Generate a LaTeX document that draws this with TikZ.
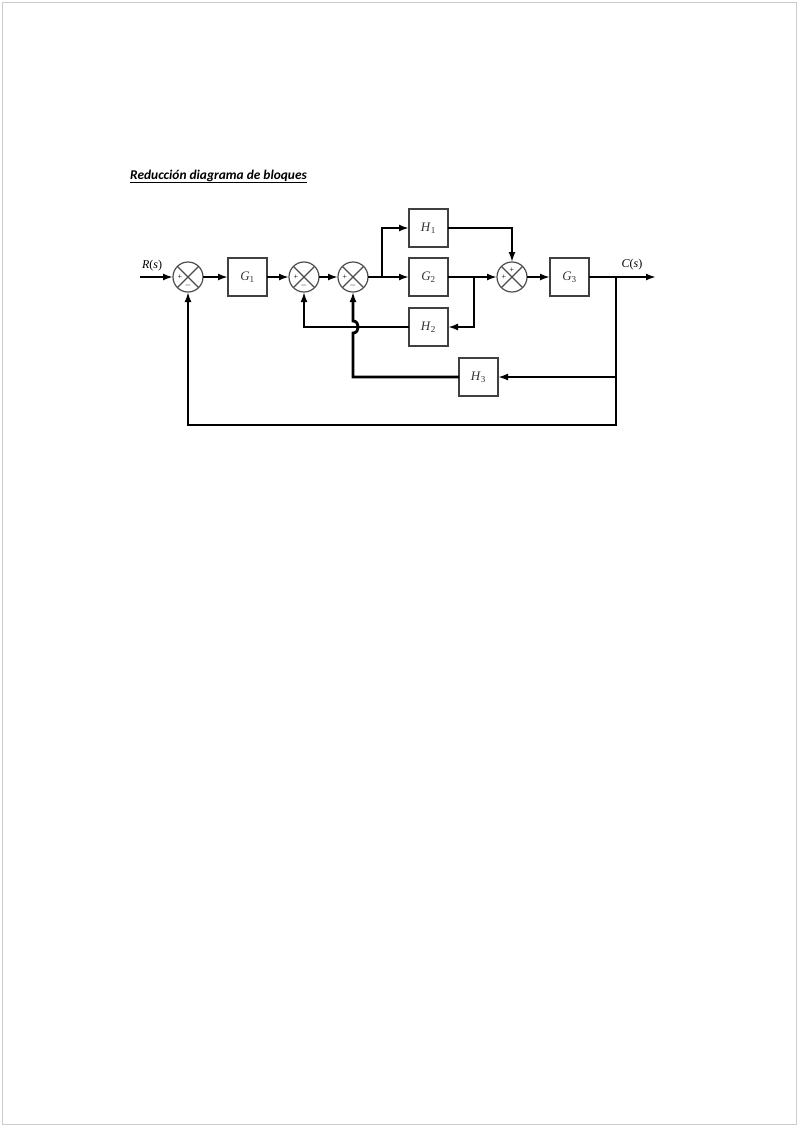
\documentclass[tikz,border=0pt]{standalone}
\usepackage{fontspec}
\setmainfont{Liberation Serif}
\newfontfamily\titlefont{Carlito}
\usepackage{xcolor}
\usepackage{tikz}
\usetikzlibrary{shapes,arrows.meta,positioning,calc}

\newcommand{\blk}[2]{\textit{#1}\textsubscript{#2}}

\begin{document}
\begin{tikzpicture}[
    x=1pt, y=-1pt,
    box/.style={rectangle, draw=black!75, line width=1.2pt, minimum width=39pt, minimum height=38pt,
        inner sep=0pt, outer sep=0pt, align=center, font=\fontsize{13}{13}\selectfont, text=black!80},
    sum/.style={circle, draw=black!70, line width=1.2pt, minimum size=30pt, inner sep=0pt, outer sep=0pt,
        path picture={\draw[black!70, line width=1.1pt]
            (path picture bounding box.north west) -- (path picture bounding box.south east)
            (path picture bounding box.north east) -- (path picture bounding box.south west);}},
    sig/.style={font=\fontsize{8}{8}\selectfont, inner sep=0pt},
    line/.style={line width=2.8pt, -{Latex[length=10pt,width=7pt]}},
    wire/.style={line width=2.8pt}
]
    \useasboundingbox (0,0) rectangle (800,1128);
    \draw[black!20, line width=1pt] (2.5,2.5) rectangle (796,1124);

    \node[anchor=base west, inner sep=0pt] (title) at (130,179)
        {\titlefont\fontsize{13.4}{15}\selectfont\bfseries\itshape\underline{Reducción diagrama de bloques}};

    % forward path
    \node[sum] (s1) at (188,277) {};
    \node[box, right=25pt of s1] (g1) {\blk{G}{1}};
    \node[sum, right=22pt of g1] (s2) {};
    \node[sum, right=19pt of s2] (s3) {};
    \node[box, right=41pt of s3] (g2) {\blk{G}{2}};
    \node[box, above=11pt of g2] (h1) {\blk{H}{1}};
    \node[box, below=12pt of g2] (h2) {\blk{H}{2}};
    \node[box, below=12pt of h2, xshift=50pt] (h3) {\blk{H}{3}};
    \node[sum, right=49pt of g2] (s4) {};
    \node[box, right=23pt of s4] (g3) {\blk{G}{3}};

    % signs
    \node[sig] at ([xshift=-8pt]s1.center) {+};
    \node[sig] at ([yshift=-8pt]s1.center) {$-$};
    \node[sig] at ([xshift=-8pt]s2.center) {+};
    \node[sig] at ([yshift=-8pt]s2.center) {$-$};
    \node[sig] at ([xshift=-8pt]s3.center) {+};
    \node[sig] at ([yshift=-8pt]s3.center) {$-$};
    \node[sig] at ([yshift=7pt]s4.center) {+};
    \node[sig] at ([xshift=-8pt]s4.center) {+};

    % branch points
    \coordinate[left=33pt of s1] (rin);
    \coordinate[right=14pt of s3] (br1);
    \coordinate[right=26pt of g2] (br2);
    \coordinate[right=27pt of g3] (br3);
    \coordinate[right=67pt of g3] (cout);
    \coordinate[below=148pt of br3] (fb);

    \node[font=\fontsize{12}{12}\selectfont, above=2pt of rin, xshift=12pt] (rlbl) {\textit{R}(\textit{s})};
    \node[font=\fontsize{12}{12}\selectfont, above=3pt of cout, xshift=-24pt] (clbl) {\textit{C}(\textit{s})};

    \draw[line] (rin) -- (s1);
    \draw[line] (s1) -- (g1);
    \draw[line] (g1) -- (s2);
    \draw[line] (s2) -- (s3);
    \draw[wire] (s3) -- (br1);
    \draw[line] (br1) -- (g2);
    \draw[line] (br1) |- (h1.west);
    \draw[line] (h1.east) -| (s4.north);
    \draw[line] (g2) -- (s4);
    \draw[line] (br2) |- (h2.east);
    \draw[line] (h2.west) -| (s2.south);
    \draw[line] (s4) -- (g3);
    \draw[line] (g3) -- (cout);
    \draw[line] (br3) |- (h3.east);
    \draw[line] (br3) -- (fb) -| (s1.south);
    \draw[line] (h3.west) -| ($(s3|-h2)+(0,6)$)
        .. controls ($(s3|-h2)+(7,6)$) and ($(s3|-h2)+(7,-6)$) .. ($(s3|-h2)+(0,-6)$) -- (s3.south);
\end{tikzpicture}
\end{document}
